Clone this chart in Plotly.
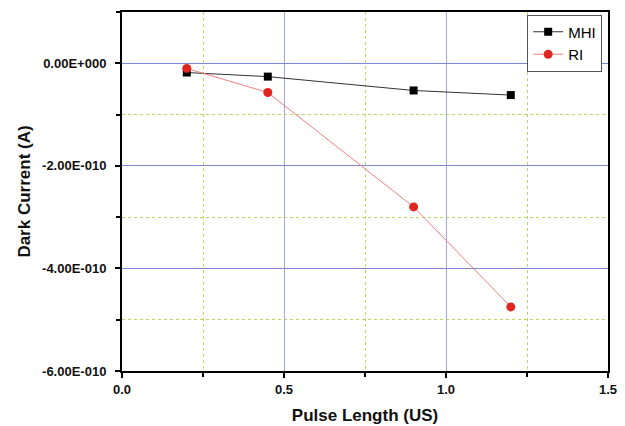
import plotly.graph_objects as go

pulse_length = [0.2, 0.45, 0.9, 1.2]
mhi_current = [-0.18e-10, -0.26e-10, -0.53e-10, -0.62e-10]
ri_current = [-0.10e-10, -0.57e-10, -2.80e-10, -4.75e-10]

x_tickvals = [0.0, 0.5, 1.0, 1.5]
x_ticktext = ["0.0", "0.5", "1.0", "1.5"]
y_tickvals = [0.0, -2e-10, -4e-10, -6e-10]
y_ticktext = ["0.00E+000", "-2.00E-010", "-4.00E-010", "-6.00E-010"]

fig = go.Figure()
fig.add_trace(go.Scatter(
    x=pulse_length, y=mhi_current, name="MHI", mode="lines+markers",
    line=dict(color="#333333", width=1),
    marker=dict(symbol="square", size=8, color="black"),
))
fig.add_trace(go.Scatter(
    x=pulse_length, y=ri_current, name="RI", mode="lines+markers",
    line=dict(color="#f08080", width=1),
    marker=dict(symbol="circle", size=9, color="#e0261e"),
))

FONT = "Liberation Sans, Arial, sans-serif"
tick_font = dict(family=FONT, size=13, color="#111111", weight="bold")
title_font = dict(family=FONT, size=17, color="#111111", weight="bold")

fig.update_xaxes(
    range=[0, 1.5], tickvals=x_tickvals, ticktext=x_ticktext,
    showline=True, linecolor="black", linewidth=2, mirror=True,
    ticks="outside", ticklen=5, tickwidth=1.5, tickcolor="black",
    showgrid=True, gridcolor="#a3a7dd", gridwidth=1,
    zeroline=False, automargin=False,
    minor=dict(dtick=0.25, showgrid=True, gridcolor="#b4dc5a", griddash="dot",
               gridwidth=1, ticks="outside", ticklen=4, tickcolor="black"),
    tickfont=tick_font,
    title=dict(text="Pulse Length (US)", font=title_font, standoff=14),
)
fig.update_yaxes(
    range=[-6e-10, 1e-10], tickvals=y_tickvals, ticktext=y_ticktext,
    showline=True, linecolor="black", linewidth=2, mirror=True,
    ticks="outside", ticklen=5, tickwidth=1.5, tickcolor="black",
    showgrid=True, gridcolor="#7f87d4", gridwidth=1,
    zeroline=False, automargin=False,
    minor=dict(dtick=1e-10, showgrid=True, gridcolor="#b4dc5a", griddash="dot",
               gridwidth=1, ticks="outside", ticklen=4, tickcolor="black"),
    tickfont=tick_font, ticklabelstandoff=6,
    title=dict(text="Dark Current (A)", font=title_font, standoff=7),
)
fig.update_layout(
    width=617, height=418,
    margin=dict(l=114, r=17, t=4, b=55),
    paper_bgcolor="white", plot_bgcolor="white",
    showlegend=True,
    legend=dict(x=0.988, y=0.993, xanchor="right", yanchor="top",
                bordercolor="#555555", borderwidth=1, bgcolor="white",
                font=dict(family=FONT, size=15, color="black"),
                tracegroupgap=0, itemwidth=30),
)
fig.write_html("out.html")
